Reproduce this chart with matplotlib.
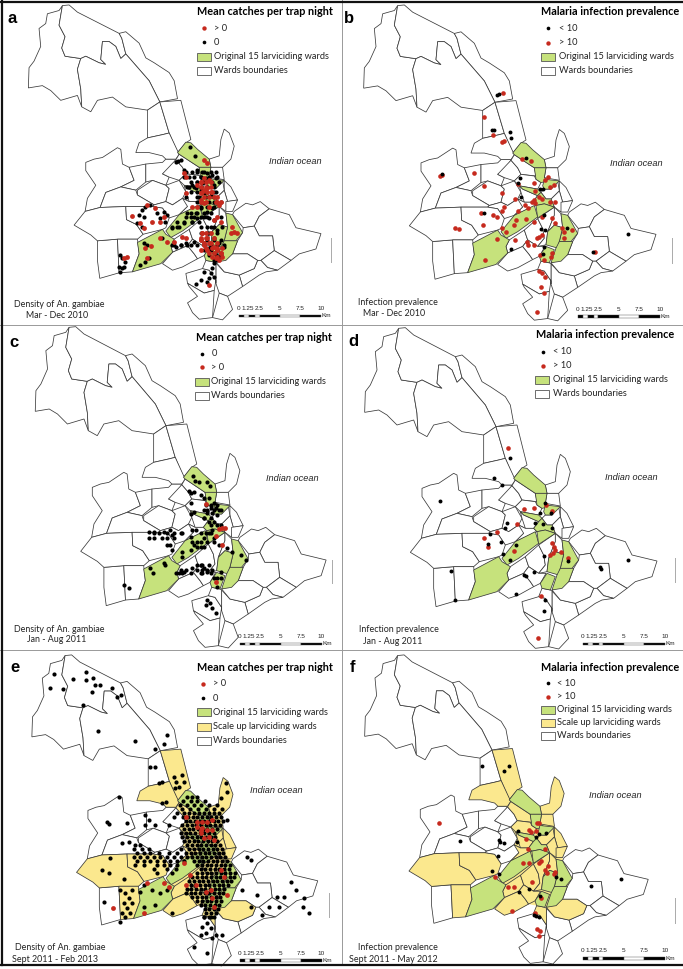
import matplotlib
matplotlib.use("Agg")
import matplotlib.pyplot as plt
from matplotlib.lines import Line2D
from matplotlib.patches import Polygon, Rectangle

plt.rcParams['font.family'] = ['Lato', 'DejaVu Sans']

GREEN = "#c6e27c"
YELLOW = "#fbe88e"
RED = "#c62a1e"
EDGE = "#3a3a3a"

# ward outlines (zoomed x3 pixels)
white_wards = [
    [(68,262),(70,200),(85,180),(105,135),(100,80),(120,65),(125,35),(160,25),(170,10),(160,70),(178,105),(168,140),(178,165),(225,172),(215,205),(225,265),(228,320),(215,285),(165,300),(135,270),(110,255)],
    [(170,10),(190,8),(215,30),(340,95),(348,110),(360,158),(345,172),(330,135),(310,120),(290,120),(285,175),(300,190),(280,185),(240,165),(225,172),(178,165),(168,140),(178,105),(160,70)],
    [(340,95),(360,90),(400,125),(420,170),(445,185),(490,215),(505,240),(515,295),(462,305),(430,240),(360,158),(348,110)],
    [(225,172),(240,165),(280,185),(300,190),(285,175),(290,120),(310,120),(330,135),(345,172),(360,158),(430,240),(462,305),(425,330),(360,320),(320,290),(275,300),(255,335),(228,320),(225,265),(215,205)],
    [(425,330),(462,305),(490,400),(470,405),(425,415)],
    [(240,490),(265,480),(290,475),(335,445),(345,450),(350,495),(370,505),(385,545),(345,565),(300,582),(283,628),(238,640),(245,600),(270,560),(240,515)],
    [(370,505),(420,495),(420,550),(390,575),(345,565),(385,545)],
    [(420,495),(470,490),(480,480),(510,480),(495,510),(470,525),(490,535),(480,560),(440,545),(420,550)],
    [(470,525),(510,482),(530,505),(540,525),(520,545),(490,535)],
    [(395,575),(440,545),(480,560),(490,570),(480,610),(445,620),(395,590)],
    [(300,582),(345,565),(390,575),(395,590),(445,620),(440,625),(360,625),(283,628)],
    [(480,560),(520,545),(540,580),(530,600),(500,620),(480,610),(490,570)],
    [(445,620),(480,610),(500,620),(530,600),(550,610),(545,625),(520,650),(490,660),(470,630),(440,625)],
    [(275,730),(335,725),(340,828),(282,845),(275,790)],
    [(685,640),(720,615),(740,620),(763,610),(790,632),(760,655),(745,685),(712,690),(680,650)],
    [(790,632),(850,650),(870,690),(945,708),(930,755),(880,770),(855,790),(805,760),(800,715),(760,715),(745,685),(760,655)],
    [(712,690),(745,685),(760,715),(800,715),(805,760),(765,790),(755,790),(725,770),(680,770),(695,730),(710,705)],
    [(805,760),(855,790),(815,820),(785,812),(765,790)],
    [(700,835),(745,815),(755,790),(765,790),(785,812),(815,820),(780,825),(760,835),(710,870)],
    [(540,830),(590,815),(610,820),(630,850),(625,882),(595,890),(545,860)],
    [(545,860),(595,890),(625,882),(620,965),(580,970),(560,950),(545,920),(575,900),(550,870)],
    [(630,798),(655,825),(700,835),(710,870),(665,900),(640,890),(630,860)],
    [(640,890),(665,900),(680,940),(650,972),(620,965)],
]
yellow_wards = [
    [(462,305),(525,300),(555,420),(540,430),(515,460),(490,400)],
    [(390,460),(400,430),(425,415),(470,405),(490,400),(520,465),(510,480),(480,480),(470,470),(430,460)],
    [(520,465),(580,505),(585,530),(540,525),(530,505),(510,482)],
    [(610,480),(640,470),(645,420),(655,388),(670,400),(685,440),(675,480),(650,505),(615,505)],
    [(615,505),(650,505),(655,543),(610,535)],
    [(655,545),(675,565),(695,605),(665,610),(655,575)],
    [(640,590),(655,575),(665,610),(660,640),(640,625),(630,600)],
    [(660,610),(695,605),(680,640),(660,640)],
    [(205,682),(238,640),(283,628),(360,625),(362,665),(392,680),(412,710),(395,725),(335,725),(275,730),(255,712)],
    [(335,725),(395,725),(400,770),(380,825),(340,828)],
    [(360,625),(440,625),(470,630),(490,660),(480,690),(470,695),(412,710),(392,680),(362,665)],
    [(520,545),(540,525),(580,530),(585,540),(600,550),(590,570),(535,560)],
    [(535,560),(545,570),(590,590),(575,610),(550,610),(540,580)],
    [(495,745),(505,725),(550,695),(560,725),(545,745),(500,765)],
    [(550,695),(590,660),(605,690),(610,720),(590,745),(560,725)],
    [(590,660),(640,625),(640,650),(620,700),(615,740),(590,745),(610,720),(605,690)],
    [(500,765),(545,745),(565,770),(575,785),(530,810),(500,820),(470,800)],
    [(545,745),(560,725),(590,745),(612,745),(595,775),(575,785),(565,770)],
    [(640,625),(660,645),(665,688),(640,680),(620,700),(640,650)],
    [(530,600),(550,610),(575,610),(585,620),(520,650),(545,625)],
    [(630,795),(680,770),(725,770),(755,790),(745,815),(700,835),(655,825)],
    [(625,795),(630,798),(630,860),(630,850),(610,820),(590,815),(600,790)],
    [(600,580),(610,570),(630,570),(650,545),(655,575),(640,590),(630,600),(615,600)],
]
green_wards = [
    [(540,428),(555,430),(575,450),(610,480),(615,505),(580,505),(520,465),(515,460)],
    [(580,505),(615,505),(610,535),(625,545),(600,550),(585,540)],
    [(610,540),(655,545),(630,570),(610,570),(605,560)],
    [(535,560),(590,570),(600,580),(590,590),(545,570)],
    [(590,590),(600,580),(615,600),(630,600),(640,625),(610,615),(585,620),(575,610)],
    [(480,700),(520,650),(580,620),(590,655),(530,700),(495,720)],
    [(585,620),(610,615),(640,625),(590,658)],
    [(660,645),(680,650),(710,705),(690,730),(655,730),(665,688)],
    [(640,680),(665,688),(650,750),(615,740),(620,700)],
    [(655,730),(695,730),(680,770),(660,790),(630,795),(645,750)],
    [(595,775),(615,745),(640,755),(625,795),(600,790)],
    [(395,735),(470,695),(480,710),(505,725),(495,745),(500,765),(465,800),(380,825),(400,770)],
]
central_fill = [(520,545),(540,525),(580,505),(650,505),(655,545),(695,605),(680,640),(680,650),(710,705),(695,730),(680,770),(630,795),(600,790),(575,785),(530,810),(500,820),(470,800),(500,765),(495,745),(505,725),(480,710),(520,650),(545,625),(550,610),(530,600),(540,580)]

# black / red survey points per panel, zoomed pixels of that panel
a_black = [(567,440),(582,467),(525,487),(540,480),(533,483),(550,510),(590,510),(605,515),(620,520),(635,525),(645,535),(600,530),(615,535),(630,545),(590,545),(605,550),(575,555),(565,560),(585,565),(600,570),(620,560),(640,555),(610,580),(630,585),(645,575),(595,590),(570,650),(585,640),(600,625),(620,635),(635,625),(610,650),(590,655),(575,665),(560,640),(550,670),(530,680),(515,685),(625,655),(640,660),(660,650),(650,690),(630,680),(600,680),(620,700),(640,715),(655,730),(610,730),(625,745),(640,760),(655,770),(670,740),(540,735),(525,740),(515,735),(555,730),(570,735),(580,725),(640,790),(635,805),(630,820),(625,835),(640,830),(620,845),(610,815),(600,840),(585,852),(435,620),(450,615),(425,630),(415,645),(430,650),(470,640),(490,635),(500,645),(480,655),(495,665),(410,670),(425,680),(360,765),(365,775),(375,785),(355,800),(365,805),(360,815),(372,800),(420,795),(435,785),(445,775),(440,735),(430,730),(485,715)]
a_black_y = [515,530,545,560,575,590,605,620,640,650,665,680,700,720,735,750,765,780]
a_black_x = [[555,575,590,610,630,645],[550,565,580,600,625,650],[570,590,610,635,655],[560,580,600,620,640],[570,590,615,640],[555,590,615,640],[590,625,640,660],[600,620,640],[570,590,610,630],[555,580,600,620],[530,550,575,595],[515,535,620,640,665],[600,625,650],[600,620,640,660],[520,540,560,590,610,630,650,670],[610,630,650],[625,645,660],[640,650]]
a_red = [(610,480),(618,490),(550,520),(555,530),(555,580),(590,555),(600,545),(610,535),(625,540),(620,565),(630,575),(610,570),(600,580),(640,590),(600,600),(610,610),(645,605),(655,615),(625,620),(590,620),(575,620),(650,650),(660,665),(640,660),(605,700),(615,715),(600,720),(610,735),(625,730),(640,740),(650,750),(660,760),(645,775),(635,770),(655,780),(695,680),(700,695),(690,700),(710,700),(620,750),(600,750),(625,855),(395,647),(420,670),(430,685),(455,665),(465,625),(440,615),(490,650),(480,665),(500,725),(520,725),(545,710),(555,715),(480,713),(435,745),(452,738),(440,775),(380,772),(370,775),(625,760)]
a_red_y = [545,560,575,590,605,700,715,730,745,760,770]
a_red_x = [[600,615,630],[600,615,630],[605,620,635],[610,625,650],[600,615,650,660],[605,615,630],[600,620,640],[610,630,650],[615,635,650,665],[640,660],[650,665]]
b_black = [(465,285),(470,282),(450,390),(456,390),(503,396),(506,415),(552,473),(533,535),(527,548),(537,590),(595,568),(604,566),(605,645),(425,640),(598,688),(608,690),(607,740),(603,762),(506,747),(752,755),(858,702),(676,683),(300,522)]
b_red = [(482,280),(426,352),(452,405),(480,425),(485,422),(540,478),(567,483),(395,520),(295,528),(300,525),(425,558),(527,552),(481,580),(520,597),(575,550),(610,540),(618,530),(625,560),(635,555),(580,572),(590,590),(575,600),(570,607),(580,610),(550,615),(558,625),(600,597),(625,605),(640,605),(418,640),(452,645),(465,652),(485,620),(480,632),(422,675),(340,685),(350,687),(527,632),(522,660),(515,675),(553,657),(575,665),(600,650),(630,655),(640,670),(660,685),(665,695),(690,690),(665,715),(480,685),(492,695),(465,718),(518,720),(555,725),(558,735),(575,735),(590,710),(600,705),(585,715),(430,780),(630,760),(628,772),(595,765),(605,780),(590,812),(600,820),(610,830),(597,862),(605,880),(585,937),(758,755)]
c_black = [(578,452),(582,468),(595,470),(618,470),(628,482),(565,497),(580,500),(572,505),(600,510),(610,520),(625,520),(640,535),(645,550),(655,555),(630,550),(620,565),(635,565),(650,570),(570,535),(580,560),(570,568),(610,580),(625,590),(640,590),(650,600),(635,615),(625,625),(640,640),(610,640),(590,650),(600,665),(580,660),(570,635),(545,625),(510,615),(515,630),(490,620),(475,625),(460,620),(445,620),(445,640),(460,640),(500,640),(510,660),(515,675),(545,680),(545,695),(570,675),(655,660),(680,670),(695,680),(720,690),(735,705),(490,715),(495,720),(450,730),(458,745),(535,745),(550,740),(575,730),(600,720),(610,730),(620,740),(605,745),(640,760),(660,740),(650,785),(385,788),(372,780),(620,825),(628,835),(615,840),(635,850),(645,865),
           (615,540),(630,540),(650,540),(610,555),(620,555),(640,555),(660,555),(610,580),(630,580),(630,600),(660,600),(600,625),(615,625),(630,625),(575,650),(600,650),(620,650),(640,650),(590,665),(610,665),(590,720),(605,720),(625,720),(540,735),(555,735),(590,735),(605,735),(620,735),(635,735),(525,745),(545,745),(570,745),(600,745),(630,745),(650,760),(660,760),(575,615),(585,615),(460,625),(500,625),(520,625),(540,625),(485,640),(520,640),(500,660)]
c_red = [(615,537),(655,612),(665,608),(672,608),(645,632),(665,660),(645,770)]
d_black = [(503,400),(457,459),(481,479),(295,528),(610,535),(595,565),(628,565),(580,595),(602,597),(630,610),(495,595),(490,610),(445,627),(437,658),(477,650),(523,660),(482,688),(503,705),(607,693),(678,707),(327,738),(545,750),(552,752),(575,740),(522,806),(340,825),(608,825),(605,858),(775,727),(778,732),(858,706)]
d_red = [(497,370),(545,552),(575,550),(612,540),(630,558),(524,597),(466,622),(427,640),(437,667),(515,678),(630,655),(635,665),(638,675),(632,685),(625,690),(658,680),(677,700),(597,812),(587,938)]
e_black = [(162,72),(150,115),(187,118),(218,88),(258,67),(278,85),(258,90),(283,105),(298,105),(275,127),(335,113),(363,135),(350,142),(248,165),(292,243),(405,273),(463,298),(500,255),(490,283),(448,350),(465,350),(475,400),(485,395),(520,380),(525,395),(545,375),(550,395),(535,410),(523,415),(355,442),(320,515),(325,522),(380,520),(433,495),(445,510),(465,525),(435,525),(385,575),(365,578),(497,455),(485,460),(520,500),(505,525),(530,490),(305,660),(325,668),(370,687),(330,625),(312,755),(360,720),(375,730),(385,745),(370,760),(380,775),(365,790),(375,800),(395,720),(360,815),(395,760),(390,790),(430,705),(420,725),(455,720),(480,730),(500,720),(515,790),(430,770),(465,765),(740,620),(750,630),(725,720),(770,735),(750,770),(785,795),(805,770),(835,770),(850,740),(830,740),(870,695),(885,720),(910,743),(905,770),(925,790),(610,800),(630,800),(620,820),(605,830),(630,835),(615,850),(635,865),(645,855),(665,855),(600,855),(620,910),(580,890),(675,400),(680,425),(660,445),(680,510)]
e_black_y = [440,452,465,478,490,502,514,526,538,550,562,574,586,598,610,622,634,646,658,670,682,694,706,718,730,742,754,766,778,790,802]
e_black_x = [[560,575,590],[548,570,590,612],[537,560,580,600,625,650],[545,568,592,615,640,665],[550,565,580,595,610,625,640,655],[548,562,576,590,604,618,632,646,660],[555,569,583,597,611,625,639,653,667],[545,559,573,587,601,615,629,643,657],[550,564,578,592,606,620,634,648],[540,555,569,583,597,611,625,639],[545,560,574,588,602,616,630,644],[550,565,579,593,607,621,635,650],[405,420,560,574,588,602,616,630,644,658],[400,425,445,540,565,580,594,608,622,636,650,664],[410,430,450,475,505,530,555,570,584,598,612,626,640,654,668],[400,420,440,460,480,500,520,540,560,575,589,603,617,631,645,659,673],[410,430,450,470,490,510,530,550,580,594,608,622,636,650,664,678],[405,430,470,490,510,530,590,604,618,632,646,660,674,688],[460,500,525,600,614,628,642,656,670,684],[470,515,590,604,618,632,646,660,674,688,702],[575,589,603,617,631,645,659,673,687,701],[565,580,594,608,622,636,650,664,678,692],[570,584,598,612,626,640,654,668,682],[558,572,586,600,614,628,642,656,670],[555,570,584,598,612,626,640,654,668],[575,589,603,617,631,645,659],[590,604,618,632,646,660],[600,614,628,642,656],[612,626,640,652],[615,630,645],[610,625,640]]
e_red = [(555,500),(590,515),(605,515),(620,515),(635,510),(590,530),(605,535),(620,540),(635,540),(600,550),(625,560),(640,570),(550,640),(568,675),(660,660),(670,680),(630,720),(615,725),(680,735),(440,700),(490,700),(505,712),(555,705),(640,770),(430,790),(338,775),(600,540),(610,565),(635,745),(585,705)]
f_black = [(420,348),(485,362),(501,348),(613,548),(590,553),(583,560),(528,543),(525,577),(470,570),(473,575),(485,580),(355,574),(468,618),(450,662),(470,672),(643,682),(658,688),(562,717),(530,727),(593,737),(746,707),(836,688),(575,795),(590,800),(582,797)]
f_red = [(292,518),(585,518),(590,520),(562,540),(568,545),(582,543),(553,568),(557,598),(608,598),(542,640),(562,640),(590,638),(597,632),(610,660),(615,668),(618,648),(640,665),(635,672),(458,680),(497,712),(515,712),(570,697),(597,745),(510,784),(580,788),(585,838),(595,842),(591,858)]

for y, xs in zip(e_black_y, e_black_x):
    e_black += [(x, y) for x in xs]
for y, xs in zip(a_black_y, a_black_x):
    a_black += [(x, y) for x in xs]
for y, xs in zip(a_red_y, a_red_x):
    a_red += [(x, y) for x in xs]

scale_labels = ["0", "1.25", "2.5", "5", "7.5", "10"]
scale_km = [0, 1.25, 2.5, 5, 7.5, 10]

TITLE_CATCH = "Mean catches per trap night"
TITLE_MAL = "Malaria infection prevalence"
ORIG = "Original 15 larviciding wards"
SCALE_UP = "Scale up larviciding wards"
BOUND = "Wards boundaries"

panels = [
    dict(name="a", box=(0,0,342,325), ylim=975, map=(0.998,17,0.98,7), black=a_black, red=a_red, marks=["red","black"], labels=["> 0","0"], title=TITLE_CATCH,
         tpos=(590,35), mx=610, tx=640, sx=590, rows=[85,127,170,212], ocean=(883,485), foot=("Density of An. gambiae",178,913,"Mar - Dec 2010",170,947), letter=(35,55), bar=(715,948), north=(990,715,785), scale_up=False),
    dict(name="b", box=(342,0,341,325), ylim=975, map=(1.0,-3,0.983,7), black=b_black, red=b_red, marks=["black","red"], labels=["< 10","> 10"], title=TITLE_MAL,
         tpos=(597,35), mx=618, tx=650, sx=597, rows=[85,128,170,212], ocean=(883,490), foot=("Infection prevalence",168,908,"Mar - Dec 2010",155,940), letter=(22,55), bar=(708,950), north=(990,715,790), scale_up=False),
    dict(name="c", box=(0,325,342,325), ylim=975, map=(0.992,38,1.0,-3), black=c_black, red=c_red, marks=["black","red"], labels=["0","> 0"], title=TITLE_CATCH,
         tpos=(585,38), mx=604, tx=632, sx=583, rows=[87,127,170,212], ocean=(875,460), foot=("Density of An. gambiae",178,913,"Jan - Aug 2011",170,945), letter=(42,52), bar=(717,957), north=(993,705,775), scale_up=False),
    dict(name="d", box=(342,325,341,325), ylim=975, map=(1.0,0,1.0,0), black=d_black, red=d_red, marks=["black","red"], labels=["< 10","> 10"], title=TITLE_MAL,
         tpos=(583,30), mx=603, tx=632, sx=580, rows=[80,122,165,207], ocean=(867,457), foot=("Infection prevalence",172,915,"Jan - Aug 2011",152,948), letter=(35,50), bar=(723,957), north=(998,700,770), scale_up=False),
    dict(name="e", box=(0,650,342,319), ylim=957, map=(0.975,29,0.968,7), black=e_black, red=e_red, marks=["red","black"], labels=["> 0","0"], title=TITLE_CATCH,
         tpos=(590,52), mx=607, tx=637, sx=590, rows=[102,145,187,230,272], ocean=(828,421), foot=("Density of An. gambiae",180,892,"Sept 2011 - Feb 2013",165,927), letter=(45,52), bar=(717,932), north=(983,730,800), scale_up=True),
    dict(name="f", box=(342,650,341,319), ylim=957, map=(0.97,2,0.962,7), black=f_black, red=f_red, marks=["black","red"], labels=["< 10","> 10"], title=TITLE_MAL,
         tpos=(598,53), mx=618, tx=645, sx=597, rows=[100,140,180,218,258], ocean=(820,438), foot=("Infection prevalence",168,892,"Sept 2011 - May 2012",155,927), letter=(30,52), bar=(723,925), north=(1000,745,820), scale_up=True),
]

W, H = 683, 969
fig = plt.figure(figsize=(W/100, H/100), dpi=100, facecolor="white")


def draw_wards(ax, wards, colour, m):
    for ward in wards:
        pts = [(m[0]*x+m[1], m[2]*y+m[3]) for x, y in ward]
        ax.add_patch(Polygon(pts, closed=True, facecolor=colour, edgecolor=EDGE, linewidth=0.55))


def scale_bar(ax, x0, y0):
    unit = 24.5
    # black/white blocks between the tick values
    ticks = [0, 0.6, 1.25, 1.9, 2.5, 5, 7.5, 10]
    for i in range(len(ticks)-1):
        c = "black" if i % 2 == 0 else "white"
        ax.add_patch(Rectangle((x0+ticks[i]*unit, y0-4), (ticks[i+1]-ticks[i])*unit, 8, facecolor=c, edgecolor="#444444", linewidth=0.3))
    for v, lab in zip(scale_km, scale_labels):
        off = -5 if lab == "1.25" else 0
        ax.text(x0+v*unit+off, y0-22, lab, fontsize=4.6, ha="center", va="center", color="#222222", family="Liberation Sans")
    ax.text(x0+10*unit+17, y0-1, "Km", fontsize=4.6, ha="center", va="center", color="#222222", family="Liberation Sans")


for p in panels:
    bx, by, bw, bh = p["box"]
    ax = fig.add_axes([bx/W, 1-(by+bh)/H, bw/W, bh/H])
    ax.set_xlim(0, 1023)
    ax.set_ylim(p["ylim"], 0)
    ax.axis("off")

    m = p["map"]
    if p["scale_up"]:
        ax.add_patch(Polygon([(m[0]*x+m[1], m[2]*y+m[3]) for x, y in central_fill], closed=True, facecolor=YELLOW, edgecolor="none"))
    draw_wards(ax, white_wards, "white", m)
    draw_wards(ax, yellow_wards, YELLOW if p["scale_up"] else "white", m)
    draw_wards(ax, green_wards, GREEN, m)

    bx_, by_ = zip(*p["black"])
    rx_, ry_ = zip(*p["red"])
    if p["name"] in ("b", "d", "f"):
        ax.scatter(rx_, ry_, s=11, color=RED, linewidths=0, zorder=4)
        ax.scatter(bx_, by_, s=8, color="black", linewidths=0, zorder=5)
    else:
        ax.scatter(bx_, by_, s=9, color="black", linewidths=0, zorder=4)
        ax.scatter(rx_, ry_, s=12, color=RED, linewidths=0, zorder=5)

    # legend
    ax.text(p["tpos"][0], p["tpos"][1], p["title"], fontsize=7.8, fontweight="bold", va="center", ha="left", color="black", zorder=6)
    rows = p["rows"]
    for row, mk, lab in zip(rows[:2], p["marks"], p["labels"]):
        ax.scatter([p["mx"]], [row], s=7 if mk == "black" else 10, color=RED if mk == "red" else "black", linewidths=0, zorder=6)
        ax.text(p["tx"], row, lab, fontsize=6.7, va="center", ha="left", color="#222222")
    swatches = [(ORIG, GREEN)]
    if p["scale_up"]:
        swatches.append((SCALE_UP, YELLOW))
    swatches.append((BOUND, "white"))
    for row, (lab, colour) in zip(rows[2:], swatches):
        ax.add_patch(Rectangle((p["sx"], row-12), 42, 24, facecolor=colour, edgecolor="#555555", linewidth=0.6))
        ax.text(p["tx"], row, lab, fontsize=6.7, va="center", ha="left", color="#222222")

    ax.text(p["ocean"][0], p["ocean"][1], "Indian ocean", fontsize=6.6, style="italic", ha="center", va="center", color="#222222", family="Liberation Sans")
    f = p["foot"]
    ax.text(f[1], f[2], f[0], fontsize=6.4, ha="center", va="center", color="#222222")
    ax.text(f[4], f[5], f[3], fontsize=6.4, ha="center", va="center", color="#222222")
    ax.text(p["letter"][0], p["letter"][1], p["name"], fontsize=12, fontweight="bold", ha="center", va="center", color="black", family="Liberation Sans")
    scale_bar(ax, *p["bar"])
    n = p["north"]
    ax.plot([n[0], n[0]], [n[1], n[2]], color="#aaaaaa", linewidth=0.7)

# panel frames
thin = dict(color="#999999", linewidth=0.7, transform=fig.transFigure)
thick = dict(color="#111111", linewidth=1.6, transform=fig.transFigure)
fig.add_artist(Line2D([341.5/W, 341.5/W], [1-965/H, 1], **thin))
fig.add_artist(Line2D([0, 1], [1-325/H, 1-325/H], **thin))
fig.add_artist(Line2D([0, 1], [1-650/H, 1-650/H], **thin))
fig.add_artist(Line2D([1.5/W, 1.5/W], [1-965/H, 1], **thick))
fig.add_artist(Line2D([0, 1], [1-1.5/H, 1-1.5/H], **thick))
fig.add_artist(Line2D([0, 1], [1-965/H, 1-965/H], **thick))

plt.savefig("out.png", dpi=100)
